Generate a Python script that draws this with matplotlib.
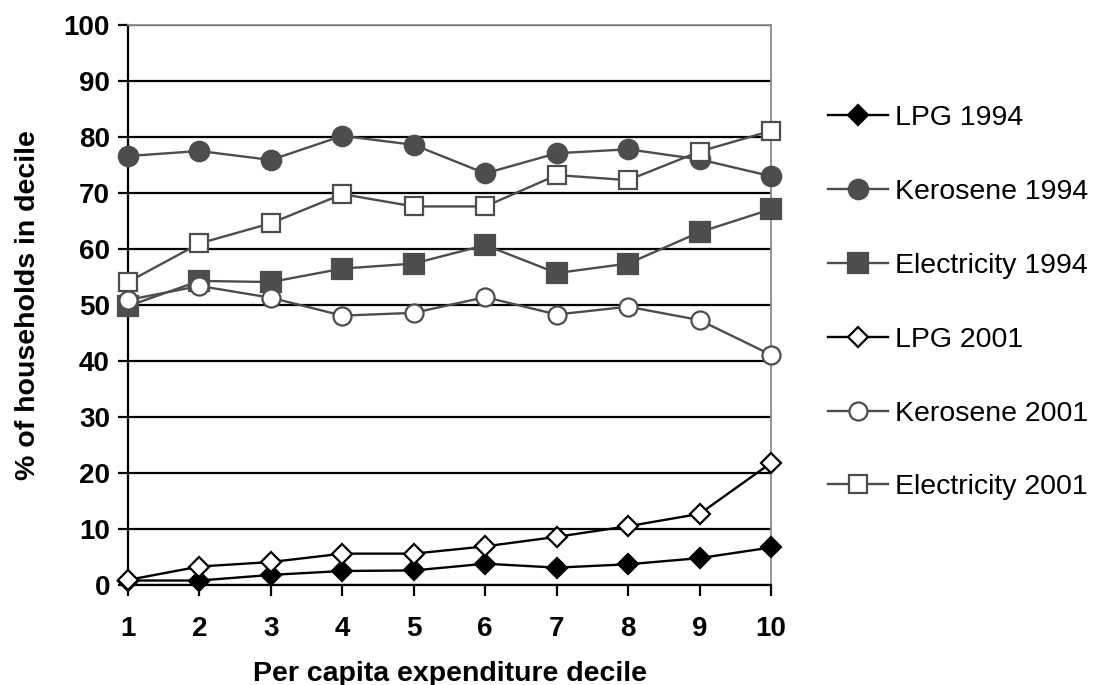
import matplotlib
matplotlib.use('Agg')
import matplotlib.pyplot as plt

plt.rcParams['font.family'] = ['Liberation Sans', 'DejaVu Sans']

deciles = [1, 2, 3, 4, 5, 6, 7, 8, 9, 10]
lpg_1994 = [0.8, 0.8, 1.8, 2.5, 2.6, 3.8, 3.1, 3.7, 4.8, 6.7]
kerosene_1994 = [76.6, 77.5, 75.9, 80.2, 78.6, 73.5, 77.1, 77.8, 76.0, 73.0]
electricity_1994 = [49.8, 54.3, 54.1, 56.5, 57.4, 60.7, 55.7, 57.4, 63.0, 67.1]
lpg_2001 = [0.9, 3.3, 4.1, 5.6, 5.6, 6.9, 8.6, 10.5, 12.7, 21.8]
kerosene_2001 = [50.9, 53.4, 51.3, 48.1, 48.6, 51.4, 48.3, 49.7, 47.3, 41.1]
electricity_2001 = [54.1, 61.0, 64.6, 69.8, 67.6, 67.6, 73.2, 72.3, 77.4, 81.1]

gray = '#4d4d4d'

fig = plt.figure(figsize=(10.94, 6.85), dpi=100)
ax = fig.add_axes([0.117, 0.146, 0.5878, 0.8175])

ax.set_yticks(range(0, 101, 10))
ax.yaxis.grid(True, color='black', linewidth=1.6)
ax.set_axisbelow(True)

series = [
    ('LPG 1994', lpg_1994, 'black', 'D', 'black', 10),
    ('Kerosene 1994', kerosene_1994, gray, 'o', gray, 14),
    ('Electricity 1994', electricity_1994, gray, 's', gray, 14),
    ('LPG 2001', lpg_2001, 'black', 'D', 'white', 10),
    ('Kerosene 2001', kerosene_2001, gray, 'o', 'white', 13),
    ('Electricity 2001', electricity_2001, gray, 's', 'white', 12.5),
]
for label, vals, col, mk, face, ms in series:
    ax.plot(deciles, vals, color=col, linewidth=1.7, marker=mk,
            markersize=ms, markerfacecolor=face, markeredgecolor=col,
            markeredgewidth=1.6, label=label, clip_on=False, zorder=3)

ax.set_xlim(1, 10)
ax.set_ylim(0, 100)
ax.set_xticks(deciles)

for s in ['left', 'bottom']:
    ax.spines[s].set_color('black')
    ax.spines[s].set_linewidth(1.6)
for s in ['right', 'top']:
    ax.spines[s].set_color('#8c8c8c')
    ax.spines[s].set_linewidth(1.3)

ax.tick_params(axis='y', direction='out', length=7, width=1.6, labelsize=20, pad=6)
ax.tick_params(axis='x', direction='out', length=8, width=1.6, labelsize=20, pad=14)
for t in ax.get_xticklabels() + ax.get_yticklabels():
    t.set_fontweight('bold')

ax.set_xlabel('Per capita expenditure decile', fontsize=20.5, fontweight='bold', labelpad=14)
ax.set_ylabel('% of households in decile', fontsize=20.5, fontweight='bold', labelpad=16)

fig.legend(loc='center left', bbox_to_anchor=(0.757, 0.558), frameon=False,
           fontsize=20.5, handlelength=2.1, handletextpad=0.25, labelspacing=1.68,
           borderpad=0, borderaxespad=0)

fig.savefig('out.png', dpi=100)
